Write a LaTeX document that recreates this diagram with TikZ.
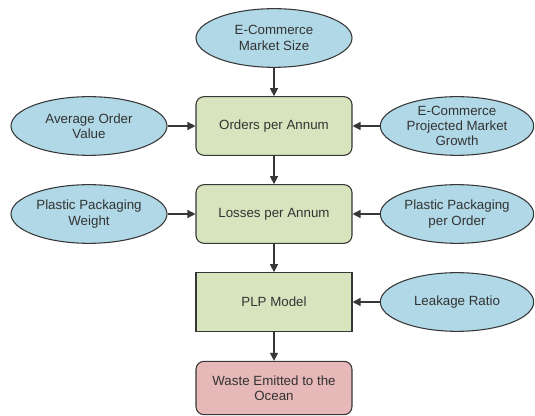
\documentclass[tikz,border=0pt]{standalone}
\usepackage{fontspec}
\setmainfont{Liberation Sans}
\usetikzlibrary{shapes.geometric, arrows.meta}
\definecolor{inputblue}{RGB}{176,216,230}
\definecolor{stagegreen}{RGB}{215,228,189}
\definecolor{outputred}{RGB}{230,184,183}
\definecolor{edgegray}{RGB}{55,55,55}

\begin{document}
\begin{tikzpicture}[x=0.75pt, y=-0.75pt, >={Triangle[length=6pt, width=6pt]}]
        \tikzstyle{input}=[ellipse, draw=edgegray, fill=inputblue, text=black!80, line width=0.8pt, minimum width=117pt, minimum height=44pt, inner sep=0pt, align=center, font=\fontsize{10}{11.5}\selectfont]
        \tikzstyle{stage}=[rectangle, draw=edgegray, fill=stagegreen, text=black!80, line width=0.8pt, minimum width=117pt, minimum height=44pt, align=center, font=\fontsize{10}{11.5}\selectfont]
        \tikzstyle{link}=[->, draw=edgegray, line width=1pt]
        \useasboundingbox (0,0) rectangle (535,416);

        % Main chain
        \node (size)[input] at (274,38) {E-Commerce\\Market Size};
        \node (orders)[stage, rounded corners=6pt] at (274,126) {Orders per Annum};
        \node (losses)[stage, rounded corners=6pt] at (274,214) {Losses per Annum};
        \node (plp)[stage] at (274,302) {PLP Model};
        \node (waste)[stage, rounded corners=6pt, fill=outputred, minimum height=40pt] at (274,388) {Waste Emitted to the\\Ocean};

        % Side inputs
        \node (aov)[input] at (89,126) {Average Order\\Value};
        \node (growth)[input, minimum width=115pt] at (457,126) {E-Commerce\\Projected Market\\Growth};
        \node (weight)[input] at (89,214) {Plastic Packaging\\Weight};
        \node (perorder)[input, minimum width=115pt] at (457,214) {Plastic Packaging\\per Order};
        \node (leak)[input, minimum width=115pt] at (457,302) {Leakage Ratio};

        % Connectors
        \draw[link] (size) -- (orders);
        \draw[link] (orders) -- (losses);
        \draw[link] (losses) -- (plp);
        \draw[link] (plp) -- (waste);
        \draw[link] (aov) -- (orders);
        \draw[link] (growth) -- (orders);
        \draw[link] (weight) -- (losses);
        \draw[link] (perorder) -- (losses);
        \draw[link] (leak) -- (plp);
    \end{tikzpicture}
\end{document}
